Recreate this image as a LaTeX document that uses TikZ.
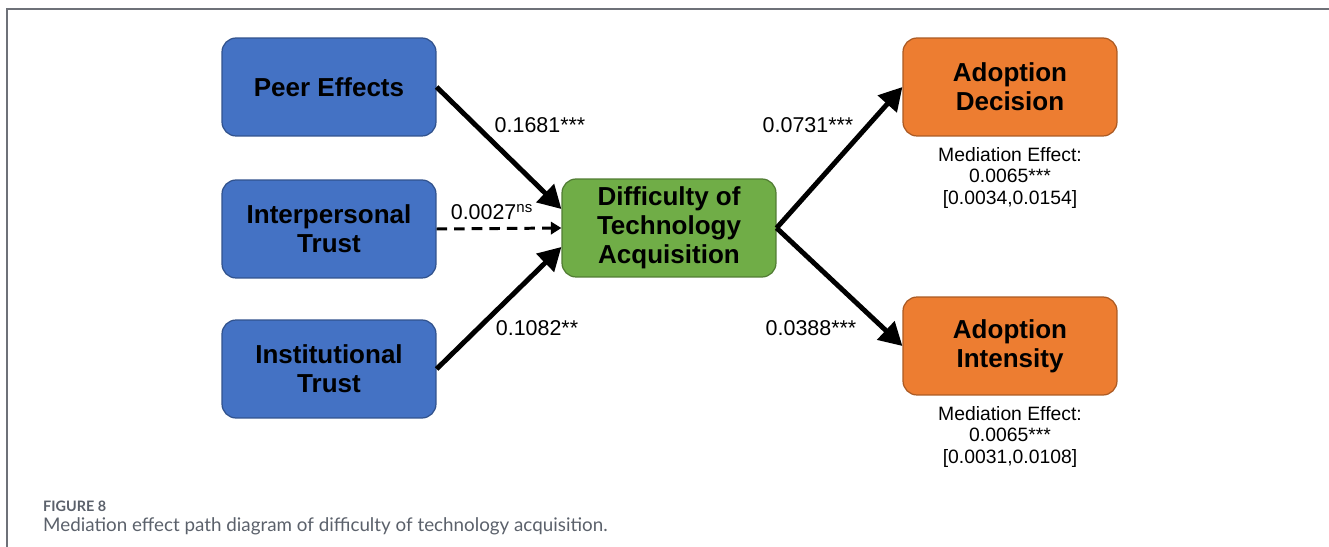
\documentclass[tikz,border=0pt]{standalone}
\usepackage{fontspec}
\setmainfont{Liberation Sans}
\newfontfamily\capfont{Lato}
\usetikzlibrary{arrows.meta}

\definecolor{boxblue}{HTML}{4472C4}
\definecolor{boxgreen}{HTML}{70AD47}
\definecolor{boxorange}{HTML}{ED7D31}
\definecolor{capgray}{HTML}{5B616B}
\definecolor{framegray}{HTML}{6E7178}

\begin{document}
\begin{tikzpicture}[x=0.02cm,y=-0.02cm,
    box/.style={draw=#1!72!black, fill=#1, line width=0.7pt, rounded corners=8pt,
      minimum width=4.28cm, minimum height=1.96cm, align=center,
      font=\fontsize{14.8}{16.6}\selectfont\bfseries},
    coef/.style={font=\fontsize{12.2}{14}\selectfont},
    note/.style={align=center, font=\fontsize{11}{12.2}\selectfont},
    path/.style={line width=2.8pt, -{Triangle[length=13pt,width=14pt]}},
    dpath/.style={line width=1.7pt, dash pattern=on 6pt off 4pt, -{Triangle[length=6pt,width=7pt]}}]
                \useasboundingbox (0,0) rectangle (1329,547);
                \draw[framegray, line width=1.1pt] (7,547) -- (7,9) -- (1329,9);

                \node[box=boxblue] (peer) at (329,87) {Peer Effects};
                \node[box=boxblue] (inter) at (329,229) {Interpersonal\\Trust};
                \node[box=boxblue] (inst) at (329,369) {Institutional\\Trust};
                \node[box=boxgreen] (diff) at (669,228) {Difficulty of\\Technology\\Acquisition};
                \node[box=boxorange] (dec) at (1010,87) {Adoption\\Decision};
                \node[box=boxorange] (int) at (1010,346) {Adoption\\Intensity};

                \draw[path] (peer.east) -- (diff.170);
                \draw[dpath] (inter.east) -- (diff.west);
                \draw[path] (inst.east) -- (diff.190);
                \draw[path] (diff.east) -- (dec.west);
                \draw[path] (diff.east) -- (int.west);

                \node[coef] (c1) at (540,125) {0.1681***};
                \node[coef] (c2) at (492,212) {0.0027\textsuperscript{ns}};
                \node[coef] (c3) at (537,328) {0.1082**};
                \node[coef] (c4) at (808,125) {0.0731***};
                \node[coef] (c5) at (811,328) {0.0388***};

                \node[note] (decnote) at (1010,178) {Mediation Effect:\\0.0065***\\{}[0.0034,0.0154]};
                \node[note] (intnote) at (1010,437) {Mediation Effect:\\0.0065***\\{}[0.0031,0.0108]};

                \node[anchor=west, text=capgray, font=\capfont\fontsize{8.2}{9}\selectfont\bfseries] (fig) at (37,506) {FIGURE 8};
                \node[anchor=west, text=capgray, font=\capfont\fontsize{10.7}{12}\selectfont] (cap) at (37,526) {Mediation effect path diagram of difficulty of technology acquisition.};
            \end{tikzpicture}
\end{document}
